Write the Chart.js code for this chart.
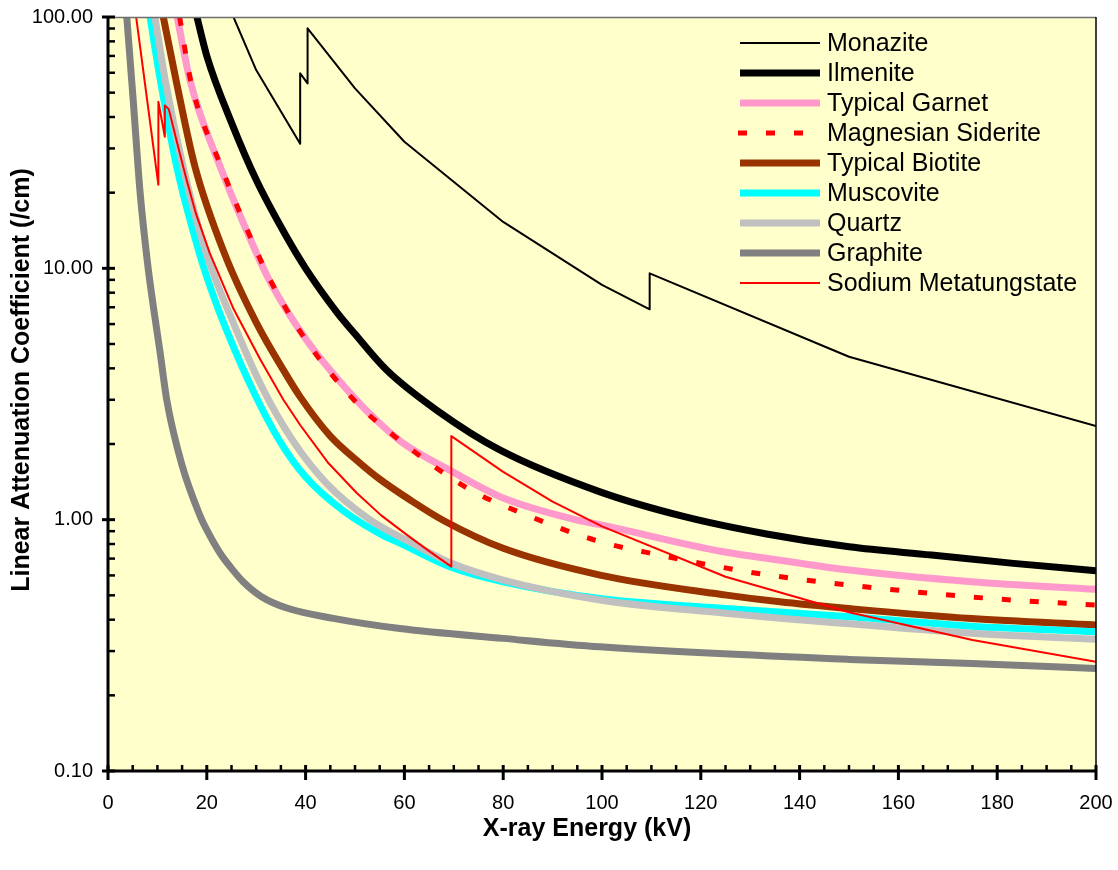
<!DOCTYPE html>
<html>
<head>
<meta charset="utf-8">
<script src="https://cdn.jsdelivr.net/npm/chart.js@4.4.1/dist/chart.umd.min.js"></script>
<style>
html,body{margin:0;padding:0;background:#ffffff;}
#wrap{width:1118px;height:870px;position:relative;}
</style>
</head>
<body>
<div id="wrap"><canvas id="c" width="1118" height="870"></canvas></div>
<script>
// ---- Data (energy in kV, linear attenuation coefficient in /cm) ----
const seriesNames = ["Monazite","Ilmenite","Typical Garnet","Magnesian Siderite","Typical Biotite","Muscovite","Quartz","Graphite","Sodium Metatungstate"];

const monaziteKV = [25.4, 30, 38.9, 38.9, 40.4, 40.4, 50, 60, 80, 100, 109.65, 109.65, 150, 200];
const monaziteMu = [100, 61.5, 31.3, 59.7, 54.4, 90.2, 52, 31.9, 15.3, 8.6, 6.87, 9.55, 4.45, 2.36];

const ilmeniteKV = [18, 20, 25, 30, 36, 40, 46.3, 50, 56.4, 66.5, 79.4, 99.6, 116.5, 133.3, 150, 166.7, 183.3, 200];
const ilmeniteMu = [100, 70, 38, 22.5, 13.5, 10.0, 6.7, 5.48, 3.94, 2.73, 1.89, 1.29, 1.03, 0.877, 0.78, 0.723, 0.67, 0.626];

const garnetKV = [14, 16.6, 22.7, 29.8, 32.8, 40, 50.3, 55, 59.8, 69.5, 80, 95, 99.6, 124.6, 136, 150, 174.8, 200];
const garnetMu = [100, 56, 25.4, 11.8, 8.85, 5.25, 2.99, 2.42, 2.01, 1.56, 1.22, 0.996, 0.955, 0.745, 0.69, 0.63, 0.566, 0.528];

const sideriteKV = [14.5, 16.8, 22.9, 30, 33, 40, 50.3, 57.1, 72.6, 86, 99.6, 111.7, 122.5, 133.7, 156.3, 178.5, 200];
const sideriteMu = [100, 55, 25.4, 11.8, 8.85, 5.2, 2.92, 2.22, 1.34, 1.02, 0.817, 0.723, 0.656, 0.602, 0.533, 0.486, 0.457];

const biotiteKV = [11.2, 13.9, 17.6, 23.7, 30.1, 35.5, 38.9, 45, 51, 55, 61.1, 68, 80, 99.6, 125.2, 136, 150, 174.8, 200];
const biotiteMu = [100, 54.5, 25.4, 11.3, 6.04, 3.94, 3.08, 2.15, 1.68, 1.45, 1.2, 0.99, 0.769, 0.602, 0.501, 0.471, 0.443, 0.404, 0.381];

const muscoviteKV = [8.5, 10.7, 13.9, 18.6, 21.3, 23.7, 29.4, 34.8, 40, 47.5, 55, 59.5, 69.2, 80, 99.6, 125, 150, 174.8, 200];
const muscoviteMu = [100, 54.5, 25.4, 11.3, 7.8, 5.86, 3.25, 2.05, 1.48, 1.09, 0.88, 0.8, 0.65, 0.566, 0.486, 0.443, 0.411, 0.377, 0.358];

const quartzKV = [9.5, 11.7, 15.2, 19.7, 25.7, 31.4, 37.5, 44.3, 53, 61.1, 69.2, 80, 99.6, 125, 136, 150, 174.8, 200];
const quartzMu = [100, 54.5, 25.4, 11.8, 5.86, 3.3, 2.05, 1.39, 1.0, 0.815, 0.675, 0.575, 0.479, 0.424, 0.405, 0.385, 0.353, 0.334];

const graphiteKV = [3.8, 5.1, 6.5, 8, 9.2, 10.5, 11.9, 14.9, 18.6, 20, 22.7, 25, 27.4, 31, 36.2, 45.6, 59.1, 80, 99.6, 150, 174.8, 200];
const graphiteMu = [100, 46.7, 20, 10.5, 7.0, 4.7, 2.99, 1.67, 1.04, 0.91, 0.735, 0.64, 0.565, 0.495, 0.445, 0.405, 0.369, 0.337, 0.312, 0.278, 0.268, 0.256];

const sodiumKV = [5.7, 10.2, 10.2, 11.5, 11.5, 12.3, 14, 15.9, 17.8, 20.6, 25.4, 30.8, 35.5, 38.9, 44.6, 50.3, 55.3, 60.5, 65, 69.5, 69.5, 80, 90, 100, 125, 150, 175, 200];
const sodiumMu = [100, 21.5, 46, 33.4, 44.5, 43, 31.5, 22.5, 16.5, 11.5, 6.9, 4.35, 3.0, 2.38, 1.68, 1.28, 1.04, 0.87, 0.75, 0.65, 2.15, 1.55, 1.18, 0.94, 0.593, 0.428, 0.332, 0.272];

const xTickLabels = [0, 20, 40, 60, 80, 100, 120, 140, 160, 180, 200];
const yTickValues = [0.1, 1, 10, 100];

// ---- Styles ----
const seriesStyles = [
  {color:"#000000", width:2,   dash:[],     smooth:false},
  {color:"#000000", width:7,   dash:[],     smooth:true},
  {color:"#FF99CC", width:7,   dash:[],     smooth:true},
  {color:"#FF0000", width:5,   dash:[9,19], smooth:true},
  {color:"#993300", width:7,   dash:[],     smooth:true},
  {color:"#00FFFF", width:7,   dash:[],     smooth:true},
  {color:"#C0C0C0", width:7,   dash:[],     smooth:true},
  {color:"#808080", width:7,   dash:[],     smooth:true},
  {color:"#FF0000", width:2,   dash:[],     smooth:false}
];

const seriesKV = [monaziteKV, ilmeniteKV, garnetKV, sideriteKV, biotiteKV, muscoviteKV, quartzKV, graphiteKV, sodiumKV];
const seriesMu = [monaziteMu, ilmeniteMu, garnetMu, sideriteMu, biotiteMu, muscoviteMu, quartzMu, graphiteMu, sodiumMu];

const FONT = "'Liberation Sans', Arial, sans-serif";

const datasets = seriesNames.map((name, i) => {
  const st = seriesStyles[i];
  return {
    label: name,
    data: seriesKV[i].map((x, k) => ({x: x, y: seriesMu[i][k]})),
    borderColor: st.color,
    backgroundColor: st.color,
    borderWidth: st.width,
    borderDash: st.dash,
    borderCapStyle: 'butt',
    borderJoinStyle: 'round',
    pointRadius: 0,
    pointHoverRadius: 0,
    fill: false,
    tension: st.smooth ? 0.4 : 0,
    cubicInterpolationMode: st.smooth ? 'monotone' : 'default',
    clip: 0,
    order: seriesNames.length - i
  };
});

function zeroPad(s) { s.paddingLeft = 0; s.paddingRight = 0; s.paddingTop = 0; s.paddingBottom = 0; }

const framePlugin = {
  id: 'frame',
  beforeDraw(chart) {
    const ctx = chart.ctx, ca = chart.chartArea;
    ctx.save();
    ctx.fillStyle = '#FFFFFF';
    ctx.fillRect(0, 0, chart.width, chart.height);
    ctx.fillStyle = '#FFFFCC';
    ctx.fillRect(ca.left, ca.top, ca.right - ca.left, ca.bottom - ca.top);
    ctx.restore();
  },
  afterDatasetsDraw(chart) {
    const ctx = chart.ctx, ca = chart.chartArea;
    const xs = chart.scales.x, ys = chart.scales.y;
    ctx.save();
    // top and right border
    ctx.strokeStyle = '#6E6E6E';
    ctx.lineWidth = 1.5;
    ctx.beginPath();
    ctx.moveTo(ca.left, ca.top + 0.5); ctx.lineTo(ca.right, ca.top + 0.5);
    ctx.stroke();
    ctx.strokeStyle = '#000000';
    ctx.lineWidth = 1.5;
    ctx.beginPath();
    ctx.moveTo(ca.right, ca.top); ctx.lineTo(ca.right, ca.bottom);
    ctx.stroke();
    // axes
    ctx.strokeStyle = '#000000';
    ctx.lineWidth = 3;
    ctx.beginPath();
    ctx.moveTo(ca.left, ca.top); ctx.lineTo(ca.left, ca.bottom + 1.5);
    ctx.moveTo(ca.left - 1.5, ca.bottom); ctx.lineTo(ca.right, ca.bottom);
    ctx.stroke();
    // y ticks
    ctx.lineWidth = 3;
    yTickValues.forEach(v => {
      const y = ys.getPixelForValue(v);
      ctx.beginPath(); ctx.moveTo(ca.left - 6, y); ctx.lineTo(ca.left + 7, y); ctx.stroke();
    });
    ctx.lineWidth = 2.5;
    for (let d = 0; d < yTickValues.length - 1; d++) {
      for (let m = 2; m <= 9; m++) {
        const y = ys.getPixelForValue(yTickValues[d] * m);
        ctx.beginPath(); ctx.moveTo(ca.left, y); ctx.lineTo(ca.left + 7, y); ctx.stroke();
      }
    }
    // x ticks
    ctx.lineWidth = 3;
    xTickLabels.forEach(v => {
      const x = xs.getPixelForValue(v);
      ctx.beginPath(); ctx.moveTo(x, ca.bottom - 6); ctx.lineTo(x, ca.bottom + 9); ctx.stroke();
    });
    ctx.lineWidth = 2.5;
    for (let v = 5; v < 200; v += 5) {
      if (v % 20 === 0) continue;
      const x = xs.getPixelForValue(v);
      ctx.beginPath(); ctx.moveTo(x, ca.bottom - 6); ctx.lineTo(x, ca.bottom); ctx.stroke();
    }
    // legend
    const lx0 = 740, lx1 = 820, ly0 = 43, ldy = 30.0;
    ctx.font = "25px " + FONT;
    ctx.textBaseline = 'middle';
    ctx.textAlign = 'left';
    chart.data.datasets.forEach((ds, i) => {
      const y = ly0 + i * ldy;
      ctx.save();
      ctx.strokeStyle = ds.borderColor;
      ctx.lineWidth = ds.borderWidth;
      ctx.lineCap = 'butt';
      if (ds.borderDash && ds.borderDash.length) {
        ctx.setLineDash(ds.borderDash);
        ctx.beginPath(); ctx.moveTo(738, y); ctx.lineTo(810, y); ctx.stroke();
      } else {
        ctx.beginPath(); ctx.moveTo(lx0, y); ctx.lineTo(lx1, y); ctx.stroke();
      }
      ctx.restore();
      ctx.fillStyle = '#000000';
      ctx.fillText(ds.label, 827, y + 1);
    });
    // axis titles
    ctx.fillStyle = '#000000';
    ctx.font = "bold 25px " + FONT;
    ctx.textAlign = 'center';
    ctx.textBaseline = 'middle';
    ctx.fillText("X-ray Energy (kV)", 587, 829);
    ctx.save();
    ctx.translate(22, 380);
    ctx.rotate(-Math.PI / 2);
    ctx.fillText("Linear Attenuation Coefficient (/cm)", 0, 0);
    ctx.restore();
    ctx.restore();
  }
};

new Chart(document.getElementById('c'), {
  type: 'line',
  data: { datasets: datasets },
  options: {
    responsive: false,
    animation: false,
    devicePixelRatio: 1,
    layout: { padding: { left: 0, right: 22, top: 17, bottom: 0 } },
    plugins: { legend: { display: false }, tooltip: { enabled: false }, title: { display: false } },
    events: [],
    scales: {
      x: {
        type: 'linear', min: 0, max: 200,
        afterBuildTicks: s => { s.ticks = xTickLabels.map(v => ({ value: v })); },
        afterFit: s => { s.height = 99; zeroPad(s); },
        ticks: { font: { family: FONT, size: 20 }, color: '#000000', padding: 20, maxRotation: 0, autoSkip: false },
        grid: { display: false, drawTicks: false },
        border: { display: false }
      },
      y: {
        type: 'logarithmic', min: 0.1, max: 100,
        afterBuildTicks: s => { s.ticks = yTickValues.map(v => ({ value: v })); },
        afterFit: s => { s.width = 108; zeroPad(s); },
        ticks: { font: { family: FONT, size: 20 }, color: '#000000', padding: 15, autoSkip: false,
                 callback: v => Number(v).toFixed(2) },
        grid: { display: false, drawTicks: false },
        border: { display: false }
      }
    }
  },
  plugins: [framePlugin]
});
</script>
</body>
</html>
